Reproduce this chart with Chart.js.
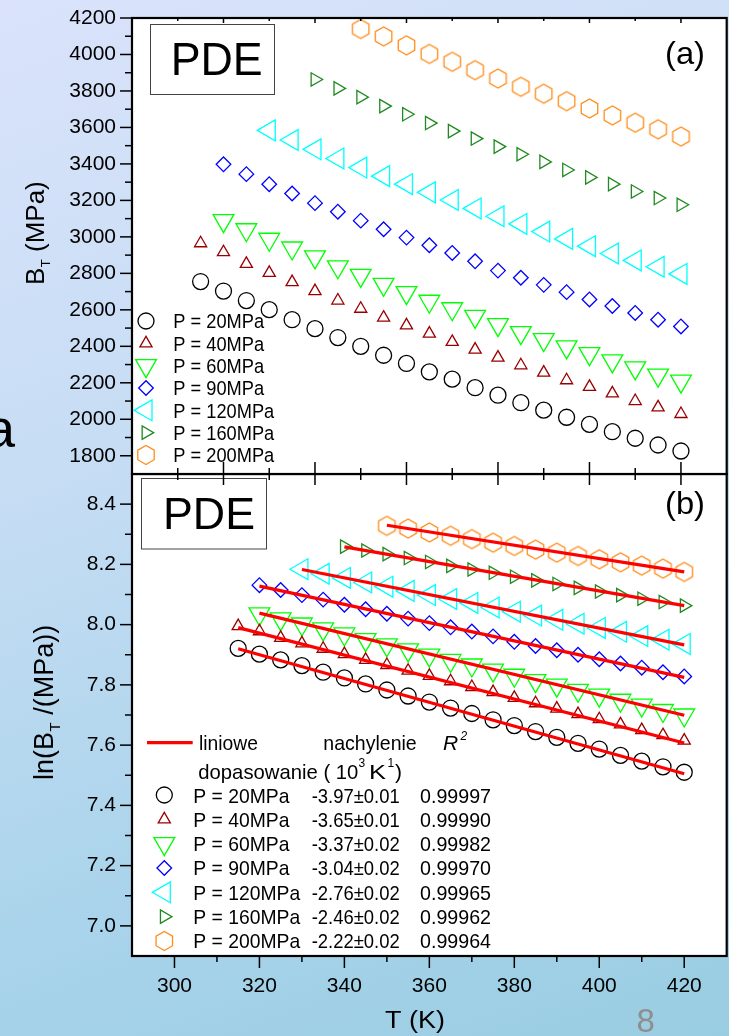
<!DOCTYPE html>
<html>
<head>
<meta charset="utf-8">
<script src="https://cdn.jsdelivr.net/npm/chart.js@4.4.1/dist/chart.umd.min.js"></script>
<style>
  html, body { margin: 0; padding: 0; width: 729px; height: 1036px; overflow: hidden; }
  body { position: relative; background: linear-gradient(160deg, #dae3fb 0%, #c6ddf4 38%, #aad4eb 72%, #99cde1 100%); }
  canvas { position: absolute; left: 0; top: 0; }
</style>
</head>
<body>
<canvas id="chartB" width="729" height="1036"></canvas>
<canvas id="chartA" width="729" height="1036"></canvas>
<script>
// temperatures (K); shorter series start later, all end at 420 K
const temperatures = [315, 320, 325, 330, 335, 340, 345, 350, 355, 360, 365, 370, 375, 380, 385, 390, 395, 400, 405, 410, 415, 420];

const pressureLabels = ["P = 20MPa", "P = 40MPa", "P = 60MPa", "P = 90MPa", "P = 120MPa", "P = 160MPa", "P = 200MPa"];

// panel (a): B_T (MPa)
const bt20 = [2755, 2703, 2651, 2601, 2546, 2497, 2448, 2400, 2351, 2306, 2260, 2220, 2173, 2132, 2091, 2050, 2011, 1972, 1932, 1896, 1859, 1826];
const bt40 = [2965, 2916, 2852, 2803, 2752, 2703, 2651, 2606, 2557, 2515, 2470, 2424, 2382, 2338, 2296, 2256, 2214, 2178, 2142, 2100, 2065, 2029];
const bt60 = [3089, 3039, 2987, 2939, 2890, 2836, 2789, 2740, 2694, 2647, 2606, 2564, 2519, 2475, 2437, 2397, 2360, 2320, 2282, 2242, 2209];
const bt90 = [3398, 3344, 3289, 3238, 3185, 3138, 3089, 3042, 2996, 2954, 2912, 2866, 2815, 2776, 2737, 2697, 2657, 2621, 2583, 2546, 2509];
const bt120 = [3584, 3531, 3480, 3430, 3380, 3333, 3289, 3244, 3202, 3156, 3113, 3071, 3029, 2989, 2949, 2909, 2871, 2836, 2797];
const bt160 = [3863, 3814, 3766, 3717, 3672, 3624, 3580, 3539, 3495, 3453, 3411, 3367, 3326, 3289, 3249, 3213, 3176];
const bt200 = [4140, 4099, 4050, 4003, 3960, 3914, 3868, 3823, 3785, 3744, 3704, 3666, 3626, 3590, 3550];

// panel (b): ln(B_T / MPa)
const ln20 = [7.921, 7.902, 7.883, 7.864, 7.842, 7.823, 7.803, 7.783, 7.763, 7.743, 7.723, 7.705, 7.684, 7.665, 7.645, 7.626, 7.606, 7.587, 7.566, 7.547, 7.528, 7.510];
const ln40 = [7.995, 7.978, 7.956, 7.938, 7.920, 7.902, 7.883, 7.866, 7.847, 7.830, 7.812, 7.793, 7.776, 7.757, 7.739, 7.721, 7.703, 7.686, 7.669, 7.650, 7.633, 7.615];
const ln60 = [8.036, 8.019, 8.002, 7.986, 7.969, 7.950, 7.933, 7.916, 7.899, 7.881, 7.866, 7.849, 7.832, 7.814, 7.799, 7.782, 7.766, 7.749, 7.733, 7.715, 7.700];
const ln90 = [8.131, 8.115, 8.098, 8.083, 8.066, 8.051, 8.036, 8.020, 8.005, 7.991, 7.977, 7.961, 7.943, 7.929, 7.915, 7.900, 7.885, 7.871, 7.857, 7.842, 7.828];
const ln120 = [8.184, 8.169, 8.155, 8.140, 8.126, 8.112, 8.098, 8.085, 8.072, 8.057, 8.043, 8.030, 8.016, 8.003, 7.989, 7.976, 7.962, 7.950, 7.936];
const ln160 = [8.259, 8.246, 8.234, 8.221, 8.208, 8.195, 8.183, 8.172, 8.159, 8.147, 8.135, 8.122, 8.110, 8.098, 8.086, 8.075, 8.063];
const ln200 = [8.328, 8.319, 8.306, 8.295, 8.284, 8.272, 8.261, 8.249, 8.239, 8.228, 8.217, 8.207, 8.196, 8.186, 8.175];

// linear fits in panel (b): value at first and last temperature of each series
const fitStart = [7.920, 7.990, 8.038, 8.128, 8.183, 8.258, 8.330];
const fitEnd = [7.505, 7.607, 7.699, 7.825, 7.933, 8.063, 8.175];
const slopeLabels = ["-3.97\u00b10.01", "-3.65\u00b10.01", "-3.37\u00b10.02", "-3.04\u00b10.02", "-2.76\u00b10.02", "-2.46\u00b10.02", "-2.22\u00b10.02"];
const r2Labels = ["0.99997", "0.99990", "0.99982", "0.99970", "0.99965", "0.99962", "0.99964"];

// tick labels
const tickBT = [1800, 2000, 2200, 2400, 2600, 2800, 3000, 3200, 3400, 3600, 3800, 4000, 4200];
const tickLn = [7.0, 7.2, 7.4, 7.6, 7.8, 8.0, 8.2, 8.4];
const tickT = [300, 320, 340, 360, 380, 400, 420];

const seriesA = [bt20, bt40, bt60, bt90, bt120, bt160, bt200];
const seriesB = [ln20, ln40, ln60, ln90, ln120, ln160, ln200];

const FONT = '"Liberation Sans", Arial, Helvetica, sans-serif';
Chart.defaults.font.family = FONT;

const markers = [
  { color: "#000000", style: "circle", rot: 0, r: 8 },
  { color: "#990000", style: "triangle", rot: 0, r: 7 },
  { color: "#00ff00", style: "triangle", rot: 180, r: 12 },
  { color: "#0000ff", style: "rectRot", rot: 0, r: 7.3 },
  { color: "#00ffff", style: "triangle", rot: 270, r: 12 },
  { color: "#1f8a1f", style: "triangle", rot: 90, r: 7.7 },
  { color: "#ff8c1a", style: "hex", rot: 0, r: 9.5 },
];

function hexPath(g, x, y, r) {
  g.beginPath();
  for (let k = 0; k < 6; k++) {
    const ang = Math.PI / 2 + k * Math.PI / 3;
    const px = x + r * Math.cos(ang), py = y + r * Math.sin(ang);
    if (k === 0) g.moveTo(px, py); else g.lineTo(px, py);
  }
  g.closePath();
}

function hexImage(color, r) {
  const c = document.createElement("canvas");
  const s = Math.ceil(2 * r + 4);
  c.width = s; c.height = s;
  const g = c.getContext("2d");
  g.strokeStyle = color;
  g.lineWidth = 1.3;
  hexPath(g, s / 2, s / 2, r);
  g.stroke();
  return c;
}

function drawMarker(ctx, m, x, y) {
  const r = m.r;
  ctx.save();
  ctx.strokeStyle = m.color;
  ctx.lineWidth = 1.3;
  if (m.style === "hex") {
    hexPath(ctx, x, y, r);
  } else {
    ctx.beginPath();
    if (m.style === "circle") {
      ctx.arc(x, y, r, 0, 2 * Math.PI);
    } else if (m.style === "rectRot") {
      ctx.moveTo(x - r, y); ctx.lineTo(x, y - r); ctx.lineTo(x + r, y); ctx.lineTo(x, y + r);
      ctx.closePath();
    } else {
      let a = m.rot * Math.PI / 180;
      for (let k = 0; k < 3; k++) {
        const px = x + Math.sin(a) * r, py = y - Math.cos(a) * r;
        if (k === 0) ctx.moveTo(px, py); else ctx.lineTo(px, py);
        a += 2 * Math.PI / 3;
      }
      ctx.closePath();
    }
  }
  ctx.stroke();
  ctx.restore();
}

function fitText(ctx, s, x, y, size, opts = {}) {
  ctx.save();
  ctx.font = (opts.style || "") + " " + size + "px " + FONT;
  ctx.fillStyle = opts.color || "#000";
  ctx.textBaseline = "alphabetic";
  ctx.textAlign = "left";
  const w = ctx.measureText(s).width;
  const sx = opts.width ? opts.width / w : (opts.sx || 1);
  ctx.translate(x, y);
  ctx.scale(sx, 1);
  ctx.fillText(s, 0, 0);
  ctx.restore();
}

function line(ctx, x1, y1, x2, y2) {
  ctx.beginPath(); ctx.moveTo(x1, y1); ctx.lineTo(x2, y2); ctx.stroke();
}

function toPoints(values) {
  const off = temperatures.length - values.length;
  return values.map((v, i) => ({ x: temperatures[off + i], y: v }));
}

function markerDataset(values, m) {
  return {
    data: toPoints(values),
    showLine: false,
    pointStyle: m.style === "hex" ? hexImage(m.color, m.r) : m.style,
    pointRotation: m.rot,
    pointRadius: m.r,
    pointHoverRadius: m.r,
    pointBorderColor: m.color,
    pointBackgroundColor: "rgba(0,0,0,0)",
    pointBorderWidth: 1.3,
    clip: false,
    order: 2,
  };
}

// build a chart; if the layout leaves the frame's right edge off x = 727, widen the canvas and rebuild
function build(id, makeConfig) {
  const canvas = document.getElementById(id);
  let chart = new Chart(canvas, makeConfig());
  const d = Math.round(727 - chart.chartArea.right);
  if (d !== 0) {
    chart.destroy();
    canvas.width = 729 + d;
    canvas.height = 1036;
    canvas.style.width = (729 + d) + "px";
    canvas.style.height = "1036px";
    chart = new Chart(canvas, makeConfig());
  }
  return chart;
}

const whiteArea = {
  id: "whiteArea",
  beforeDraw(chart) {
    const a = chart.chartArea;
    chart.ctx.save();
    chart.ctx.fillStyle = "#ffffff";
    chart.ctx.fillRect(a.left, a.top, a.right - a.left, a.bottom - a.top);
    chart.ctx.restore();
  },
};

// tick marks are drawn by the plugins; the library only places the labels
function axisCommon() {
  return {
    grid: { display: true, drawOnChartArea: false, drawTicks: true, tickLength: 12, tickColor: "rgba(0,0,0,0)" },
    border: { display: false },
  };
}

// ---------- panel (a) ----------
const panelA = {
  id: "panelA",
  afterDraw(chart) {
    const ctx = chart.ctx, a = chart.chartArea, xs = chart.scales.x, ys = chart.scales.y;
    ctx.save();
    ctx.strokeStyle = "#000";
    ctx.lineWidth = 1.5;
    for (let v = 1800; v <= 4200; v += 100) {
      const y = ys.getPixelForValue(v);
      line(ctx, a.left - (v % 200 === 0 ? 12 : 7), y, a.left, y);
    }
    for (let t = 310; t <= 420; t += 10) {
      const x = xs.getPixelForValue(t);
      const major = t % 20 === 0;
      line(ctx, x, a.top, x, a.top + (major ? 5 : 3));
      line(ctx, x, a.bottom - (major ? 12 : 6), x, a.bottom + (major ? 11 : 6));
    }
    ctx.lineWidth = 2.2;
    ctx.strokeRect(a.left, a.top, a.right - a.left, a.bottom - a.top);

    // PDE box
    ctx.strokeStyle = "#444";
    ctx.lineWidth = 1;
    ctx.strokeRect(150.5, 24.5, 124, 70);
    ctx.restore();
    fitText(ctx, "PDE", 170.7, 75, 46, { width: 92 });
    fitText(ctx, "(a)", 665, 63.5, 32, { width: 40 });

    // legend
    pressureLabels.forEach((lab, i) => {
      const y = 321 + i * 22.33;
      drawMarker(ctx, markers[i], 146, y);
      fitText(ctx, lab, 173.3, y + 7.3, 20.5, { sx: 0.89 });
    });

    // y title
    ctx.save();
    ctx.translate(44, 285);
    ctx.rotate(-Math.PI / 2);
    ctx.fillStyle = "#000";
    ctx.font = "26px " + FONT;
    ctx.fillText("B", 0, 0);
    let w = ctx.measureText("B").width;
    ctx.font = "13px " + FONT;
    ctx.fillText("T", w + 0.5, 6);
    w += ctx.measureText("T").width + 0.5;
    ctx.font = "26px " + FONT;
    ctx.fillText(" (MPa)", w, 0);
    ctx.restore();

    // cut-off letter at the left edge
    fitText(ctx, "a", -15, 447, 54);
  },
};

build("chartA", () => ({
  type: "scatter",
  data: { datasets: seriesA.map((v, i) => markerDataset(v, markers[i])) },
  options: {
    responsive: false,
    animation: false,
    devicePixelRatio: 1,
    events: [],
    layout: { padding: { left: 0, top: 18, right: 2, bottom: 562 } },
    plugins: { legend: { display: false }, tooltip: { enabled: false } },
    scales: {
      x: { type: "linear", min: 300, max: 430, display: false },
      y: {
        type: "linear", min: 1700, max: 4200,
        ...axisCommon(),
        afterFit: (s) => { s.width = 132; },
        afterBuildTicks: (s) => { s.ticks = tickBT.map((v) => ({ value: v })); },
        ticks: { padding: 4, color: "#000", font: { size: 21 }, callback: (v) => String(v) },
      },
    },
  },
  plugins: [whiteArea, panelA],
}));

// ---------- panel (b) ----------
const panelB = {
  id: "panelB",
  afterDraw(chart) {
    const ctx = chart.ctx, a = chart.chartArea, xs = chart.scales.x, ys = chart.scales.y;
    ctx.save();
    ctx.strokeStyle = "#000";
    ctx.lineWidth = 1.5;
    for (let i = 70; i <= 84; i++) {
      const y = ys.getPixelForValue(i / 10);
      line(ctx, a.left - (i % 2 === 0 ? 12 : 7), y, a.left, y);
    }
    for (let t = 300; t <= 420; t += 10) {
      const x = xs.getPixelForValue(t);
      line(ctx, x, a.bottom, x, a.bottom + (t % 20 === 0 ? 12 : 6));
    }
    ctx.lineWidth = 2.2;
    ctx.strokeRect(a.left, a.top, a.right - a.left, a.bottom - a.top);

    ctx.strokeStyle = "#444";
    ctx.lineWidth = 1;
    ctx.strokeRect(141.5, 478.5, 125, 70.5);
    ctx.restore();
    fitText(ctx, "PDE", 163, 529, 43.5, { width: 92 });
    fitText(ctx, "(b)", 665, 514, 32, { width: 40 });

    // legend header
    ctx.save();
    ctx.strokeStyle = "#ff0000";
    ctx.lineWidth = 3.3;
    line(ctx, 147, 742.7, 192.7, 742.7);
    ctx.restore();
    fitText(ctx, "liniowe", 199, 750, 21, { width: 59 });
    fitText(ctx, "nachylenie", 323.3, 750, 21, { width: 93.4 });
    fitText(ctx, "R", 443, 750, 21, { style: "italic" });
    fitText(ctx, "2", 460.5, 740, 12, { style: "italic" });
    fitText(ctx, "dopasowanie ( 10", 198.3, 778.5, 21, { width: 160 });
    fitText(ctx, "3", 358.5, 767, 12);
    fitText(ctx, "K", 369, 778.5, 21, { width: 17 });
    fitText(ctx, "1", 387.5, 767, 12);
    fitText(ctx, ")", 395, 778.5, 21);

    pressureLabels.forEach((lab, i) => {
      const y = 795 + i * 24.33;
      drawMarker(ctx, markers[i], 164.3, y);
      fitText(ctx, lab, 193.3, y + 7.5, 21, { sx: 0.92 });
      fitText(ctx, slopeLabels[i], 311.7, y + 7.5, 21, { width: 88 });
      fitText(ctx, r2Labels[i], 420, y + 7.5, 21, { width: 71 });
    });

    // y title
    ctx.save();
    ctx.translate(53, 780);
    ctx.rotate(-Math.PI / 2);
    ctx.fillStyle = "#000";
    ctx.font = "27px " + FONT;
    ctx.fillText("ln(B", 0, 0);
    let w = ctx.measureText("ln(B").width;
    ctx.font = "15px " + FONT;
    ctx.fillText("T", w + 0.5, 7);
    w += ctx.measureText("T").width + 0.5;
    ctx.font = "27px " + FONT;
    ctx.fillText(" /(MPa))", w, 0);
    ctx.restore();

    fitText(ctx, "T (K)", 385, 1028, 23, { width: 60 });
    fitText(ctx, "8", 636.5, 1032, 33, { color: "#8e8e8e" });
  },
};

function fitDatasets() {
  return fitStart.map((v, i) => {
    const pts = toPoints(seriesB[i]);
    return {
      data: [{ x: pts[0].x, y: v }, { x: pts[pts.length - 1].x, y: fitEnd[i] }],
      showLine: true,
      borderColor: "#ff0000",
      borderWidth: 3.2,
      pointRadius: 0,
      clip: false,
      order: 0,
    };
  });
}

build("chartB", () => ({
  type: "scatter",
  data: { datasets: fitDatasets().concat(seriesB.map((v, i) => markerDataset(v, markers[i]))) },
  options: {
    responsive: false,
    animation: false,
    devicePixelRatio: 1,
    events: [],
    layout: { padding: { left: 0, top: 474, right: 2, bottom: 0 } },
    plugins: { legend: { display: false }, tooltip: { enabled: false } },
    scales: {
      x: {
        type: "linear", min: 290, max: 430,
        ...axisCommon(),
        afterFit: (s) => { s.height = 80; },
        afterBuildTicks: (s) => { s.ticks = tickT.map((v) => ({ value: v })); },
        ticks: { padding: 6, color: "#000", font: { size: 21 }, maxRotation: 0, callback: (v) => String(v) },
      },
      y: {
        type: "linear", min: 6.9, max: 8.5,
        ...axisCommon(),
        afterFit: (s) => { s.width = 132; },
        afterBuildTicks: (s) => { s.ticks = tickLn.map((v) => ({ value: v })); },
        ticks: { padding: 4, color: "#000", font: { size: 21 }, callback: (v) => Number(v).toFixed(1) },
      },
    },
  },
  plugins: [whiteArea, panelB],
}));
</script>
</body>
</html>
